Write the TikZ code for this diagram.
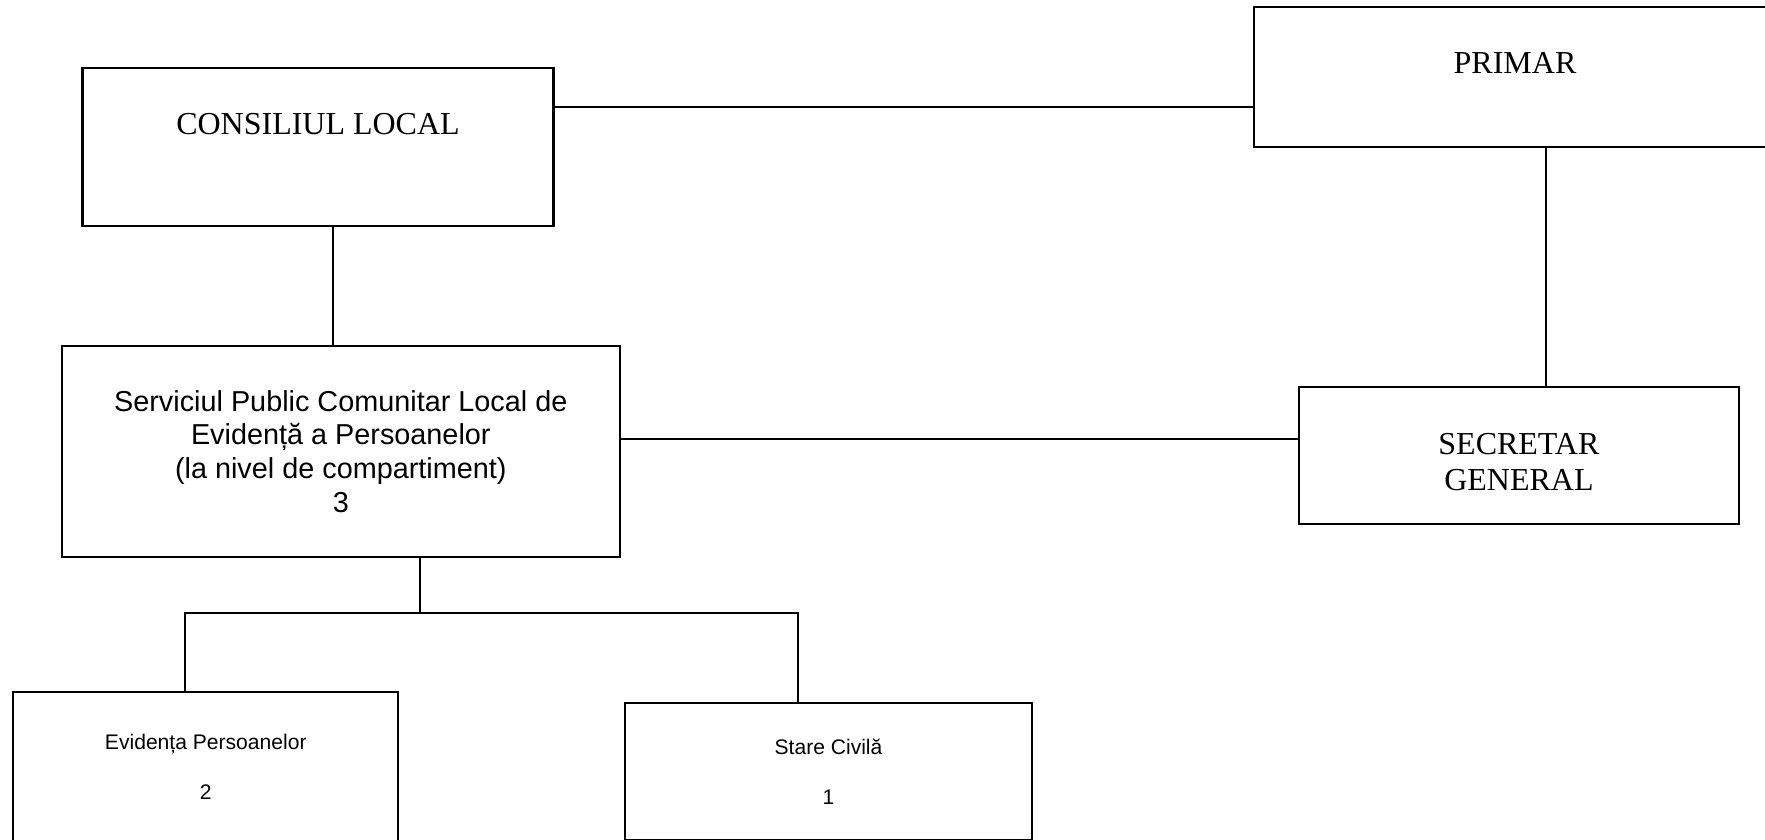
\documentclass[tikz,border=0pt]{standalone}
\usepackage{fontspec}
\setmainfont{Liberation Serif}
\setsansfont{Liberation Sans}
\usepackage{tikz}
\usetikzlibrary{positioning}
\tikzstyle{every node}+=[inner sep=0pt]
\tikzstyle{block} = [rectangle, draw, line width=0.6pt, text centered]
\tikzstyle{office} = [block, font=\fontsize{9.1}{10.4}\selectfont]
\tikzstyle{service} = [block, font=\sffamily\fontsize{8.2}{9.6}\selectfont, align=center]
\tikzstyle{dept} = [block, font=\sffamily\fontsize{6}{6.9}\selectfont, align=center]
\tikzstyle{line} = [draw, line width=0.6pt]

\begin{document}
\begin{tikzpicture}[node distance = 2cm]
            \clip (0,0) rectangle (17.65,8.39);
            % Place nodes
            \node [office, minimum width=4.71cm, minimum height=1.583cm, text depth=4.5mm] (cl) at (3.18,6.921) {CONSILIUL LOCAL};
            \node [office, node distance=11.97cm, right of=cl, yshift=0.702cm, minimum width=5.22cm, minimum height=1.40cm, text depth=2.7mm] (primar) {PRIMAR};
            \node [service, node distance=3.045cm, below of=cl, xshift=0.228cm, minimum width=5.584cm, minimum height=2.107cm] (spclep) {Serviciul Public Comunitar Local de\\Evidență a Persoanelor\\(la nivel de compartiment)\\3};
            \node [office, align=center, node distance=3.788cm, below of=primar, xshift=0.039cm, minimum width=4.397cm, minimum height=1.376cm] (secretar) {SECRETAR\rule{0pt}{3.4mm}\\GENERAL};
            \node [dept, node distance=3.1545cm, below of=spclep, xshift=-1.35cm, minimum width=3.85cm, minimum height=1.503cm] (evid) {Evidența Persoanelor\\[7.2pt]2};
            \node [dept, node distance=6.227cm, right of=evid, yshift=-0.048cm, minimum width=4.07cm, minimum height=1.367cm] (stare) {Stare Civilă\\[7.2pt]1};
            % Draw edges
            \path [line] ([yshift=4.02mm]cl.east) -- ([yshift=4.02mm]cl.east -| primar.west);
            \path [line] ([xshift=1.46mm]cl.south) -- ([xshift=1.46mm]cl.south |- spclep.north);
            \path [line] ([xshift=3.1mm]primar.south) -- ([xshift=3.1mm]primar.south |- secretar.north);
            \path [line] ([yshift=1.2mm]spclep.east) -- ([yshift=1.2mm]spclep.east -| secretar.west);
            \path [line] ([xshift=7.88mm]spclep.south) -- ++(0,-0.553) coordinate (split);
            \path [line] ([xshift=-2.08mm]evid.north) |- (split) -| ([xshift=-3.05mm]stare.north);
\end{tikzpicture}
\end{document}
